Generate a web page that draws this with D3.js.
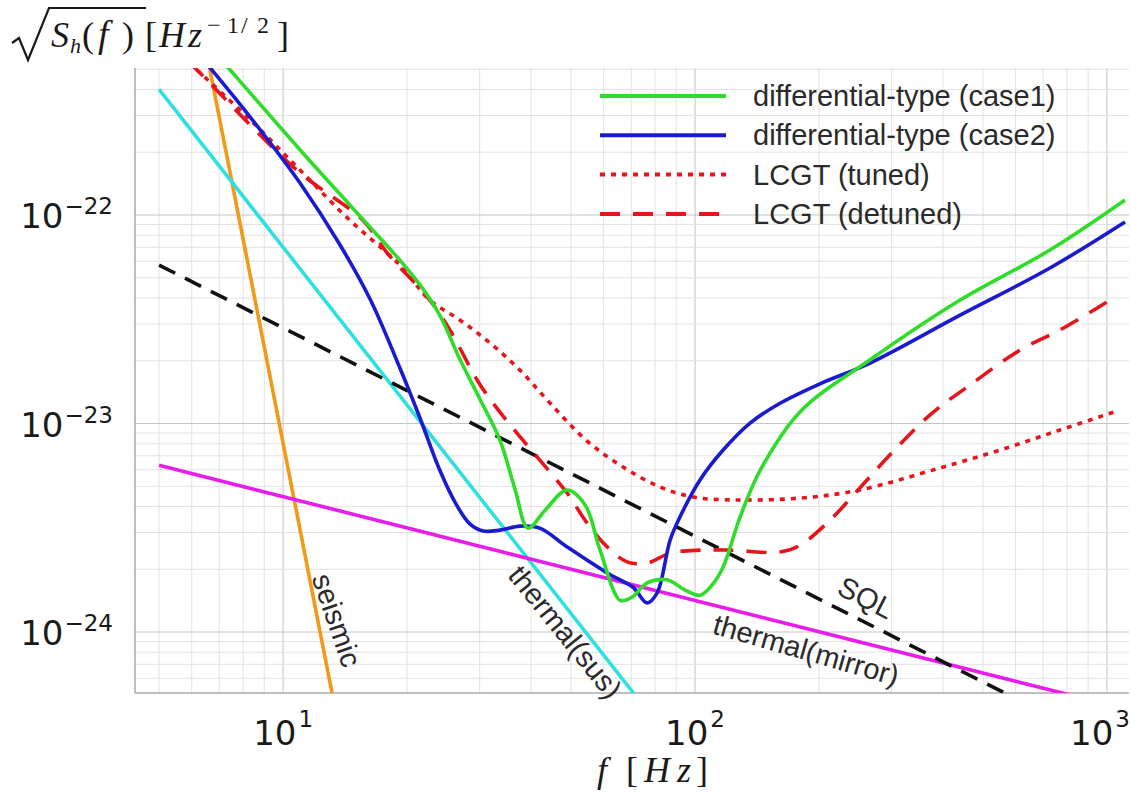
<!DOCTYPE html>
<html>
<head>
<meta charset="utf-8">
<script src="https://cdn.jsdelivr.net/npm/d3@7"></script>
<style>
  body { margin: 0; background: #fff; }
  svg { display: block; }
</style>
</head>
<body>
<div id="chart"></div>
<script>
const width = 1131;
const height = 799;
const plot = { left: 135, right: 1129, top: 68, bottom: 693 };

// axis ranges: frequency [Hz] and sqrt(Sh) [Hz^-1/2]
const fRange = [4.37, 1131];
const hRange = [5.1e-25, 5.07e-22];
const xTickDecades = [10, 100, 1000];
const xTickPowers = ['1', '2', '3'];
const yTickDecades = [1e-22, 1e-23, 1e-24];
const yTickPowers = ['\u221222', '\u221223', '\u221224'];

// differential-type (case1)
const case1F = [7.0, 7.44, 11.0, 14.5, 19.2, 21.5, 24.0, 26.9, 30.1, 33.6, 36.6, 39.3, 43.3, 48.9, 54.1, 58.8, 65.8, 70.3, 76.5, 85.5, 94.6, 102.8, 110, 117, 128.6, 144, 180, 266, 440, 727, 1106];
const case1H = [5.7e-22, 4.96e-22, 2.05e-22, 1.12e-22, 6.08e-23, 4.62e-23, 3.31e-23, 2.02e-23, 1.30e-23, 8.33e-24, 4.80e-24, 3.15e-24, 3.85e-24, 4.80e-24, 4.07e-24, 2.47e-24, 1.42e-24, 1.47e-24, 1.72e-24, 1.78e-24, 1.59e-24, 1.50e-24, 1.68e-24, 2.05e-24, 3.56e-24, 5.98e-24, 1.14e-23, 2.02e-23, 3.91e-23, 6.79e-23, 1.18e-22];

// differential-type (case2)
const case2F = [6.4, 6.72, 8.32, 11.0, 13.75, 16.3, 19.2, 21.5, 24.0, 26.2, 28.4, 30.6, 33.6, 37.6, 42.0, 48.9, 61.2, 70.7, 76.5, 80.9, 87.0, 91.9, 102.8, 117, 136, 160.8, 201, 266, 440, 727, 1106];
const case2H = [5.56e-22, 4.96e-22, 2.95e-22, 1.42e-22, 7.18e-23, 3.91e-23, 1.85e-23, 1.06e-23, 5.98e-24, 4.16e-24, 3.30e-24, 3.05e-24, 3.08e-24, 3.22e-24, 3.15e-24, 2.56e-24, 1.92e-24, 1.64e-24, 1.38e-24, 1.54e-24, 2.76e-24, 3.56e-24, 5.36e-24, 7.46e-24, 1.005e-23, 1.25e-23, 1.55e-23, 1.95e-23, 3.31e-23, 5.57e-23, 9.26e-23];

// LCGT (tuned)
const tunedF = [5.9, 6.18, 8.32, 11.0, 14.5, 19.2, 22.7, 26.9, 31.8, 37.6, 44.5, 54.7, 66.9, 82.2, 98.9, 123.6, 180, 251, 393, 550, 769, 1046];
const tunedH = [5.4e-22, 4.96e-22, 2.86e-22, 1.64e-22, 9.46e-23, 5.76e-23, 3.91e-23, 3.13e-23, 2.43e-23, 1.80e-23, 1.25e-23, 8.24e-24, 6.18e-24, 4.96e-24, 4.44e-24, 4.30e-24, 4.39e-24, 4.80e-24, 6.12e-24, 7.46e-24, 9.31e-24, 1.14e-23];

// LCGT (detuned)
const detunedF = [5.9, 6.18, 10.8, 15.6, 17.9, 22.7, 25.4, 30.1, 35.6, 42.0, 48.9, 54.7, 61.2, 68.4, 76.5, 87.0, 102.8, 121.6, 160.8, 180, 212.7, 251, 297, 372, 465, 615, 769, 1046];
const detunedH = [5.4e-22, 4.96e-22, 1.64e-22, 9.46e-23, 6.57e-23, 3.91e-23, 2.81e-23, 1.53e-23, 9.83e-24, 6.68e-24, 4.64e-24, 3.33e-24, 2.56e-24, 2.17e-24, 2.14e-24, 2.39e-24, 2.47e-24, 2.47e-24, 2.42e-24, 2.61e-24, 3.44e-24, 4.90e-24, 7.06e-24, 1.10e-23, 1.53e-23, 2.25e-23, 2.81e-23, 4.04e-23];

// noise components (straight lines in log-log)
const seismicF = [6.5, 13.5];
const seismicH = [6.2e-22, 3.9e-25];
const susF = [5, 72];
const susH = [4.0e-22, 4.9e-25];
const mirrorF = [5, 1150];
const mirrorH = [6.3e-24, 4.2e-25];
const sqlF = [5, 600];
const sqlH = [5.75e-23, 4.8e-25];

// in-plot annotations: text, frequency, amplitude, angle
const noteText = ['seismic', 'thermal(sus)', 'SQL', 'thermal(mirror)'];
const noteF = [13.5, 48.4, 260, 186];
const noteH = [1.14e-24, 1.0e-24, 1.46e-24, 8.2e-25];
const noteAngle = [71, 51, 27, 16];

const legendNames = ['differential-type (case1)', 'differential-type (case2)', 'LCGT (tuned)', 'LCGT (detuned)'];

const svg = d3.select('#chart').append('svg')
  .attr('width', width)
  .attr('height', height)
  .style('background', '#fff');

const x = d3.scaleLog().domain(fRange).range([plot.left, plot.right]);
const y = d3.scaleLog().domain(hRange).range([plot.bottom, plot.top]);

function zip(fs, hs) {
  return fs.map((f, i) => ({ f, h: hs[i] }));
}

function drawGrid() {
  const g = svg.append('g').attr('id', 'grid');
  const xs = [];
  for (let p = 0; p <= 3; p++) for (let k = 1; k <= 9; k++) xs.push(k * Math.pow(10, p));
  const ys = [];
  for (let p = -25; p <= -22; p++) for (let k = 1; k <= 9; k++) ys.push(k * Math.pow(10, p));

  g.selectAll('line.vx')
    .data(xs.filter(v => v >= fRange[0] && v <= fRange[1]))
    .enter().append('line')
    .attr('x1', d => x(d)).attr('x2', d => x(d))
    .attr('y1', plot.top).attr('y2', plot.bottom)
    .attr('stroke', d => (xTickDecades.includes(d) ? '#c4c4c4' : '#e2e2e2'))
    .attr('stroke-width', 1);

  g.selectAll('line.hy')
    .data(ys.filter(v => v >= hRange[0] && v <= hRange[1]))
    .enter().append('line')
    .attr('y1', d => y(d)).attr('y2', d => y(d))
    .attr('x1', plot.left).attr('x2', plot.right)
    .attr('stroke', d => (yTickDecades.some(t => Math.abs(t - d) / t < 1e-6) ? '#c4c4c4' : '#e2e2e2'))
    .attr('stroke-width', 1);

  // axis lines
  g.append('line').attr('x1', plot.left).attr('x2', plot.left)
    .attr('y1', plot.top).attr('y2', plot.bottom)
    .attr('stroke', '#aaa').attr('stroke-width', 1.5);
  g.append('line').attr('x1', plot.left).attr('x2', plot.right)
    .attr('y1', plot.bottom).attr('y2', plot.bottom)
    .attr('stroke', '#aaa').attr('stroke-width', 1.5);
}

function drawTickLabels() {
  const g = svg.append('g').attr('id', 'ticklabels')
    .style('font-family', '"DejaVu Sans", sans-serif')
    .attr('fill', '#1a1a1a');

  yTickDecades.forEach((t, i) => {
    const txt = g.append('text')
      .attr('x', 113)
      .attr('y', y(t) + 13)
      .attr('text-anchor', 'end')
      .style('font-size', '34px');
    txt.append('tspan').text('10');
    txt.append('tspan').attr('dy', -14).attr('dx', 1).style('font-size', '23px').text(yTickPowers[i]);
  });

  xTickDecades.forEach((t, i) => {
    const txt = g.append('text')
      .attr('x', x(t))
      .attr('y', 745)
      .attr('text-anchor', 'middle')
      .style('font-size', '34px');
    txt.append('tspan').text('10');
    txt.append('tspan').attr('dy', -18).attr('dx', 2).style('font-size', '23px').text(xTickPowers[i]);
    // keep the last label inside the page
    const bb = txt.node().getBBox();
    if (bb.x + bb.width > width - 1) txt.attr('x', x(t) - (bb.x + bb.width - width + 1));
  });
}

function drawAxisTitles() {
  const serif = '"Liberation Serif", "DejaVu Serif", serif';

  // x title: f [Hz]
  const xt = svg.append('text').attr('y', 782)
    .style('font-family', serif).style('font-size', '36px').attr('fill', '#1a1a1a');
  [['f', 597, true], ['[', 626, false], ['H', 644, true], ['z', 677, true], [']', 696, false]]
    .forEach(([s, px, it]) => {
      xt.append('tspan').attr('x', px).style('font-style', it ? 'italic' : 'normal').text(s);
    });

  // y title: sqrt(Sh(f)) [Hz^-1/2]
  svg.append('path')
    .attr('d', 'M12,43 L19,38 L28,60 L49,8 L146,8')
    .attr('fill', 'none')
    .attr('stroke', '#1a1a1a')
    .attr('stroke-width', 2.2)
    .attr('stroke-linejoin', 'miter');

  const yt = svg.append('text')
    .style('font-family', serif).attr('fill', '#1a1a1a');
  const parts = [
    ['S', 51, 47, 36, true], ['h', 70, 53, 22, true], ['(', 82, 47, 36, false],
    ['f', 98, 47, 38, true], [')', 122, 47, 36, false], ['[', 145, 47, 36, false],
    ['H', 159, 47, 36, true], ['z', 188, 47, 36, true], ['\u2212', 207, 33, 24, false],
    ['1', 227, 33, 24, false], ['/', 241, 33, 24, false], ['2', 257, 33, 24, false],
    [']', 277, 47, 36, false],
  ];
  parts.forEach(([s, px, py, fs, it]) => {
    yt.append('tspan').attr('x', px).attr('y', py)
      .style('font-size', fs + 'px')
      .style('font-style', it ? 'italic' : 'normal')
      .text(s);
  });
}

function drawCurves() {
  svg.append('clipPath').attr('id', 'plotclip')
    .append('rect')
    .attr('x', plot.left).attr('y', plot.top)
    .attr('width', plot.right - plot.left).attr('height', plot.bottom - plot.top);

  const line = d3.line()
    .x(d => x(d.f))
    .y(d => y(d.h))
    .curve(d3.curveCatmullRom.alpha(0.5));

  const series = [
    { data: zip(seismicF, seismicH), color: '#f09a1c', dash: null },
    { data: zip(susF, susH), color: '#2fe0e0', dash: null },
    { data: zip(mirrorF, mirrorH), color: '#e81ee8', dash: null },
    { data: zip(sqlF, sqlH), color: '#111', dash: '18,11' },
    { data: zip(tunedF, tunedH), color: '#e8141c', dash: '5,6' },
    { data: zip(detunedF, detunedH), color: '#e8141c', dash: '20,13' },
    { data: zip(case2F, case2H), color: '#1a1ad0', dash: null },
    { data: zip(case1F, case1H), color: '#30dc2a', dash: null },
  ];

  const g = svg.append('g').attr('clip-path', 'url(#plotclip)');
  series.forEach(s => {
    g.append('path')
      .attr('d', line(s.data))
      .attr('fill', 'none')
      .attr('stroke', s.color)
      .attr('stroke-width', 3.6)
      .attr('stroke-dasharray', s.dash);
  });
}

function drawNotes() {
  const g = svg.append('g')
    .style('font-family', '"Liberation Sans", Arial, sans-serif')
    .style('font-size', '29px')
    .attr('fill', '#2a2a2a');
  noteText.forEach((t, i) => {
    g.append('text')
      .attr('transform', `translate(${x(noteF[i])},${y(noteH[i])}) rotate(${noteAngle[i]})`)
      .attr('text-anchor', 'middle')
      .attr('dominant-baseline', 'central')
      .text(t);
  });
}

function drawLegend() {
  const styles = [
    { color: '#30dc2a', dash: null },
    { color: '#1a1ad0', dash: null },
    { color: '#e8141c', dash: '5,6' },
    { color: '#e8141c', dash: '20,13' },
  ];
  const g = svg.append('g').attr('id', 'legend')
    .style('font-family', '"Liberation Sans", Arial, sans-serif')
    .style('font-size', '29px');
  legendNames.forEach((name, i) => {
    const ly = 96 + i * 39.3;
    g.append('line')
      .attr('x1', 600).attr('x2', 726)
      .attr('y1', ly).attr('y2', ly)
      .attr('stroke', styles[i].color)
      .attr('stroke-width', 4)
      .attr('stroke-dasharray', styles[i].dash);
    g.append('text')
      .attr('x', 753)
      .attr('y', ly + 10)
      .attr('fill', '#2a2a2a')
      .text(name);
  });
}

drawGrid();
drawCurves();
drawNotes();
drawLegend();
drawTickLabels();
drawAxisTitles();
</script>
</body>
</html>
